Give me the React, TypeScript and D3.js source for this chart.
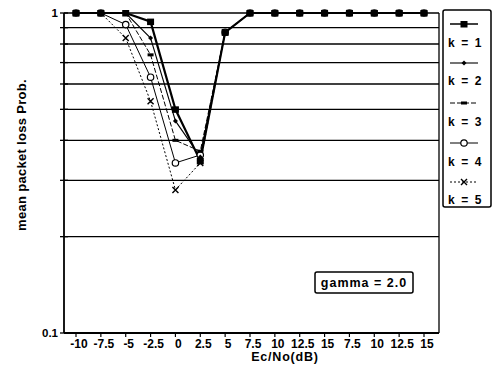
import React from 'react';
import * as d3 from 'd3';

const xLabels = ['-10', '-7.5', '-5', '-2.5', '0', '2.5', '5', '7.5', '10', '12.5', '15', '7.5', '10', '12.5', '15'];
const k1 = [1, 1, 1, 0.94, 0.5, 0.345, 0.87, 1, 1, 1, 1, 1, 1, 1, 1];
const k2 = [1, 1, 1, 0.835, 0.46, 0.355, 0.87, 1, 1, 1, 1, 1, 1, 1, 1];
const k3 = [1, 1, 1, 0.74, 0.4, 0.37, 0.87, 1, 1, 1, 1, 1, 1, 1, 1];
const k4 = [1, 1, 0.92, 0.63, 0.34, 0.36, 0.87, 1, 1, 1, 1, 1, 1, 1, 1];
const k5 = [1, 1, 0.835, 0.53, 0.28, 0.34, 0.87, 1, 1, 1, 1, 1, 1, 1, 1];
const seriesNames = ['k = 1', 'k = 2', 'k = 3', 'k = 4', 'k = 5'];
const gridValues = [0.2, 0.3, 0.4, 0.5, 0.6, 0.7, 0.8, 0.9, 1];
const yTickValues = [0.1, 0.2, 0.3, 0.4, 0.5, 0.6, 0.7, 0.8, 0.9, 1];

const W = 501;
const H = 372;
const plot = { left: 64, right: 439, top: 13, bottom: 333 };
const font = '"Liberation Sans", Arial, sans-serif';

const styles = [
  { width: 2.2, dash: '' },
  { width: 1.1, dash: '' },
  { width: 1, dash: '5,2' },
  { width: 1, dash: '' },
  { width: 1, dash: '2,2' },
];

function Marker({ kind, x, y }: { kind: number; x: number; y: number }) {
  if (kind === 0) return <rect x={x - 3.5} y={y - 3} width={7} height={6.5} fill="#000" />;
  if (kind === 1) return <path d={`M${x - 2.5},${y}L${x},${y - 2.5}L${x + 2.5},${y}L${x},${y + 2.5}Z`} fill="#000" />;
  if (kind === 2) return <rect x={x - 3} y={y - 1.5} width={6} height={3} fill="#000" />;
  if (kind === 3) return <circle cx={x} cy={y} r={3.2} fill="#fff" stroke="#000" strokeWidth={1.2} />;
  return (
    <path d={`M${x - 3},${y - 3}L${x + 3},${y + 3}M${x + 3},${y - 3}L${x - 3},${y + 3}`} stroke="#000" strokeWidth={1.4} />
  );
}

export default function App() {
  const data = [k1, k2, k3, k4, k5];
  const x = d3.scalePoint<number>().domain(d3.range(xLabels.length)).range([76, 424]);
  const y = d3.scaleLog().domain([0.1, 1]).range([plot.bottom, plot.top]);
  const line = d3
    .line<number>()
    .x((_, i) => x(i) as number)
    .y((d) => y(d));
  const order = [4, 3, 2, 1, 0];

  return (
    <div style={{ position: 'absolute', left: 0, top: 0 }}>
      <svg width={W} height={H} style={{ display: 'block', background: '#fff' }} fontFamily={font}>
        {/* grid */}
        {gridValues.map((v) => (
          <line key={v} x1={plot.left} x2={plot.right} y1={y(v)} y2={y(v)} stroke="#000" strokeWidth={1.3} />
        ))}
        {/* frame */}
        <line x1={plot.left} x2={plot.left} y1={plot.top} y2={plot.bottom} stroke="#000" strokeWidth={1.8} />
        <line x1={plot.left} x2={plot.right} y1={plot.bottom} y2={plot.bottom} stroke="#000" strokeWidth={1.8} />
        <line x1={plot.right} x2={plot.right} y1={plot.top} y2={plot.bottom} stroke="#000" strokeWidth={1.3} />
        {/* y ticks */}
        {yTickValues.map((v) => (
          <line key={v} x1={plot.left - 4} x2={plot.left + 4} y1={y(v)} y2={y(v)} stroke="#000" strokeWidth={1.3} />
        ))}
        <text x={plot.left - 6} y={y(1) + 4} textAnchor="end" fontSize={11.5} fontWeight="bold">1</text>
        <text x={plot.left - 6} y={y(0.1) + 4} textAnchor="end" fontSize={11.5} fontWeight="bold">0.1</text>
        {/* x ticks */}
        {xLabels.map((l, i) => (
          <g key={i}>
            <line x1={x(i)} x2={x(i)} y1={plot.bottom} y2={plot.bottom + 4} stroke="#000" strokeWidth={1.2} />
            <text x={(x(i) as number) + 3} y={plot.bottom + 15} textAnchor="middle" fontSize={12} fontWeight="bold">
              {l}
            </text>
          </g>
        ))}
        <text x={285} y={361} textAnchor="middle" fontSize={12.5} fontWeight="bold" letterSpacing={0.8}>
          Ec/No(dB)
        </text>
        <text
          transform={`translate(26,155) rotate(-90)`}
          textAnchor="middle"
          fontSize={13}
          fontWeight="bold"
          letterSpacing={0.3}
        >
          mean packet loss Prob.
        </text>
        {/* series */}
        {order.map((si) => (
          <path
            key={si}
            d={line(data[si]) as string}
            fill="none"
            stroke="#000"
            strokeWidth={styles[si].width}
            strokeDasharray={styles[si].dash}
          />
        ))}
        {order.map((si) =>
          data[si].map((v, i) => <Marker key={`${si}-${i}`} kind={si} x={x(i) as number} y={y(v)} />)
        )}
        {/* gamma box */}
        <rect x={315} y={272} width={98} height={21} fill="#fff" stroke="#000" strokeWidth={1.5} rx={2} />
        <text x={364} y={287} textAnchor="middle" fontSize={12.5} fontWeight="bold" letterSpacing={1}>
          gamma = 2.0
        </text>
        {/* legend */}
        <rect x={443} y={10} width={48} height={197} fill="#fff" stroke="#000" strokeWidth={1.5} rx={2} />
        {seriesNames.map((n, si) => {
          const ly = [24, 63, 103, 143, 182][si];
          const ty = [47, 85, 126, 166, 204][si];
          return (
            <g key={n}>
              <line
                x1={450}
                x2={478}
                y1={ly}
                y2={ly}
                stroke="#000"
                strokeWidth={Math.min(styles[si].width, 1.5)}
                strokeDasharray={styles[si].dash}
              />
              <Marker kind={si} x={464} y={ly} />
              <text x={448} y={ty} fontSize={12} fontWeight="bold" letterSpacing={1.6}>
                {n}
              </text>
            </g>
          );
        })}
      </svg>
    </div>
  );
}
